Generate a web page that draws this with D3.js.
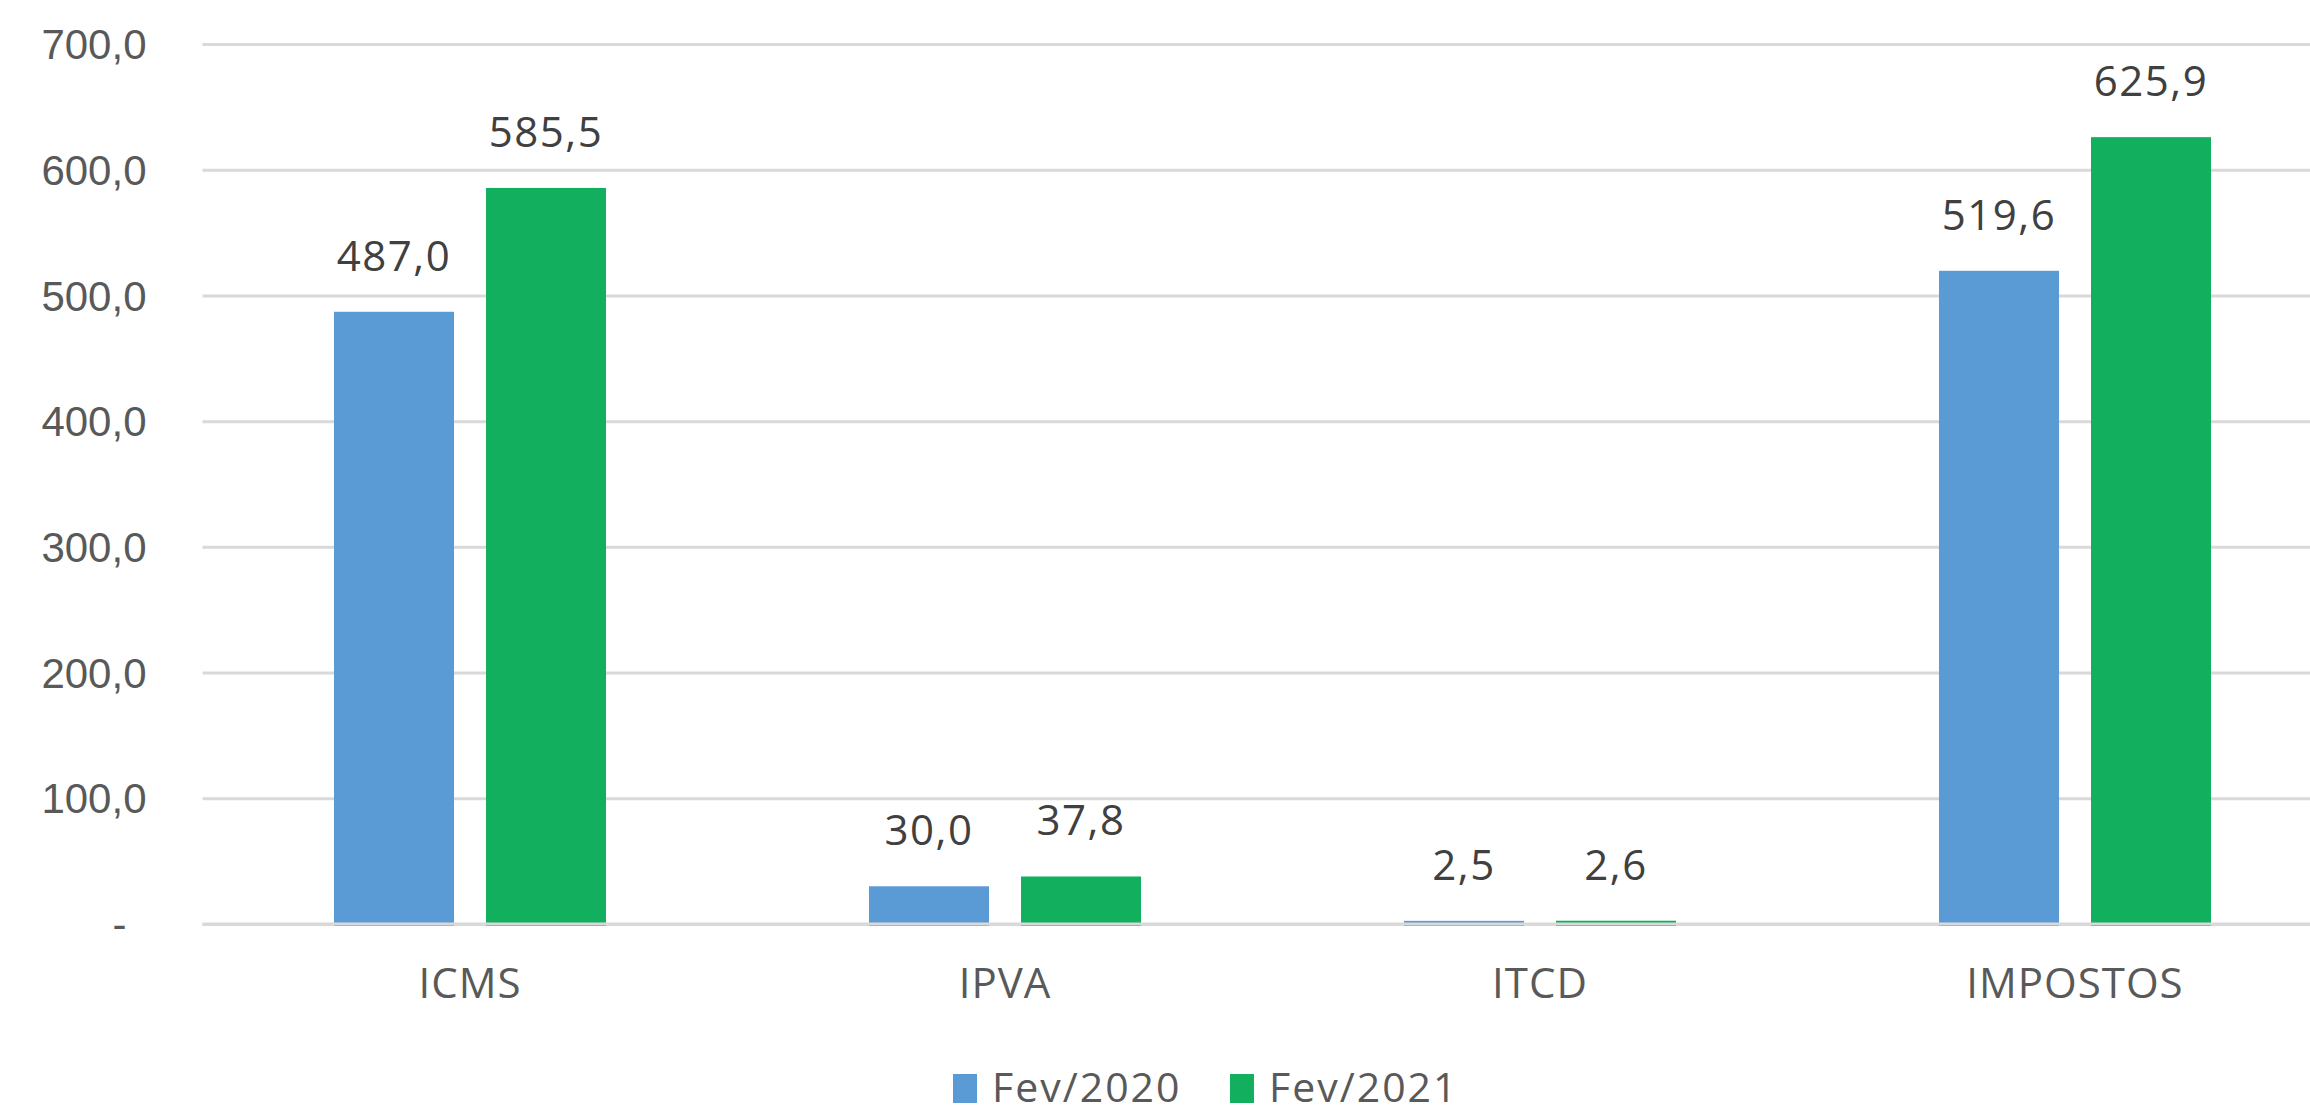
<!DOCTYPE html>
<html>
<head>
<meta charset="utf-8">
<script src="https://cdn.jsdelivr.net/npm/d3@7"></script>
<style>
  body { margin: 0; background: #fff; }
  svg { display: block; font-family: "Open Sans", "Noto Sans", sans-serif; }
  .axis text { fill: #595959; font-size: 42px; }
  .grid line { stroke: #d9d9d9; stroke-width: 3; }
</style>
</head>
<body>
<div id="chart"></div>
<script>
// data
var categories = ["ICMS", "IPVA", "ITCD", "IMPOSTOS"];
var seriesNames = ["Fev/2020", "Fev/2021"];
var fev2020 = [487.0, 30.0, 2.5, 519.6];
var fev2021 = [585.5, 37.8, 2.6, 625.9];
var yTicks = [0, 100, 200, 300, 400, 500, 600, 700];
var colors = ["#5b9bd5", "#12b05e"];

//---------------------------SVG---------------------------//
const width = 2310;
const height = 1116;
const left = 202.5;
const band = 535;

const svg = d3.select("#chart").append("svg")
    .attr("width", width)
    .attr("height", height);

const br = d3.formatLocale({decimal: ",", thousands: ".", grouping: [3], currency: ["R$", ""]});
const fmt = br.format(".1f");

//--------------------------SCALES-------------------------//
const x0 = d3.scaleBand()
    .domain(categories)
    .range([left, left + band * categories.length])
    .paddingInner(0).paddingOuter(0);

const x1 = d3.scaleBand()
    .domain(seriesNames)
    .range([0, band])
    .paddingInner(0.2105)
    .paddingOuter(0.865);

const y = d3.scaleLinear().domain([0, 700]).range([924, 44]);

//---------------------------AXES--------------------------//
const yaxis = d3.axisLeft(y)
    .tickValues(yTicks)
    .tickSizeInner(-(width - left))
    .tickSizeOuter(0)
    .tickPadding(56)
    .tickFormat(function(d) { return d === 0 ? "-" : fmt(d); });

const gy = svg.append("g")
    .attr("class", "axis grid")
    .attr("transform", "translate(" + left + ",0)")
    .call(yaxis);
gy.select(".domain").remove();
gy.selectAll(".tick text").attr("dy", "0.35em");
gy.selectAll(".tick").filter(function(d) { return d === 0; })
    .select("text").attr("x", -76);

//---------------------------BARS--------------------------//
const rows = categories.map(function(c, i) {
    return {cat: c, vals: [fev2020[i], fev2021[i]]};
});

const groups = svg.append("g").selectAll("g")
    .data(rows)
    .join("g")
    .attr("transform", function(d) { return "translate(" + x0(d.cat) + ",0)"; });

groups.selectAll("rect")
    .data(function(d) { return d.vals.map(function(v, j) { return {s: seriesNames[j], v: v, j: j}; }); })
    .join("rect")
    .attr("x", function(d) { return x1(d.s); })
    .attr("width", x1.bandwidth())
    .attr("y", function(d) { return y(d.v); })
    .attr("height", function(d) { return y(0) - y(d.v) + 2; })
    .attr("fill", function(d) { return colors[d.j]; });

// zero line drawn over the bars
svg.append("line")
    .attr("x1", left).attr("x2", width)
    .attr("y1", y(0)).attr("y2", y(0))
    .attr("stroke", "#d9d9d9").attr("stroke-width", 3);

groups.selectAll("text.lbl")
    .data(function(d) { return d.vals.map(function(v, j) { return {s: seriesNames[j], v: v, j: j}; }); })
    .join("text")
    .attr("class", "lbl")
    .attr("x", function(d) { return x1(d.s) + x1.bandwidth() / 2; })
    .attr("y", function(d) { return y(d.v) - 41; })
    .attr("text-anchor", "middle")
    .attr("fill", "#404040")
    .style("font-size", "42px")
    .style("letter-spacing", "1.5px")
    .text(function(d) { return fmt(d.v); });

//--------------------------X LABELS-----------------------//
svg.append("g").selectAll("text")
    .data(categories)
    .join("text")
    .attr("x", function(d) { return x0(d) + band / 2; })
    .attr("y", 998)
    .attr("text-anchor", "middle")
    .attr("fill", "#595959")
    .style("font-size", "42px")
    .style("letter-spacing", "1px")
    .text(function(d) { return d; });

//---------------------------LEGEND------------------------//
var legendX = [953, 1230];
const lg = svg.append("g").selectAll("g")
    .data(seriesNames)
    .join("g")
    .attr("transform", function(d, i) { return "translate(" + legendX[i] + ",1074)"; });

lg.append("rect")
    .attr("width", 24).attr("height", 29)
    .attr("fill", function(d, i) { return colors[i]; });

lg.append("text")
    .attr("x", 39)
    .attr("y", 28)
    .attr("fill", "#595959")
    .style("font-size", "41px")
    .style("letter-spacing", "2px")
    .text(function(d) { return d; });
</script>
</body>
</html>
